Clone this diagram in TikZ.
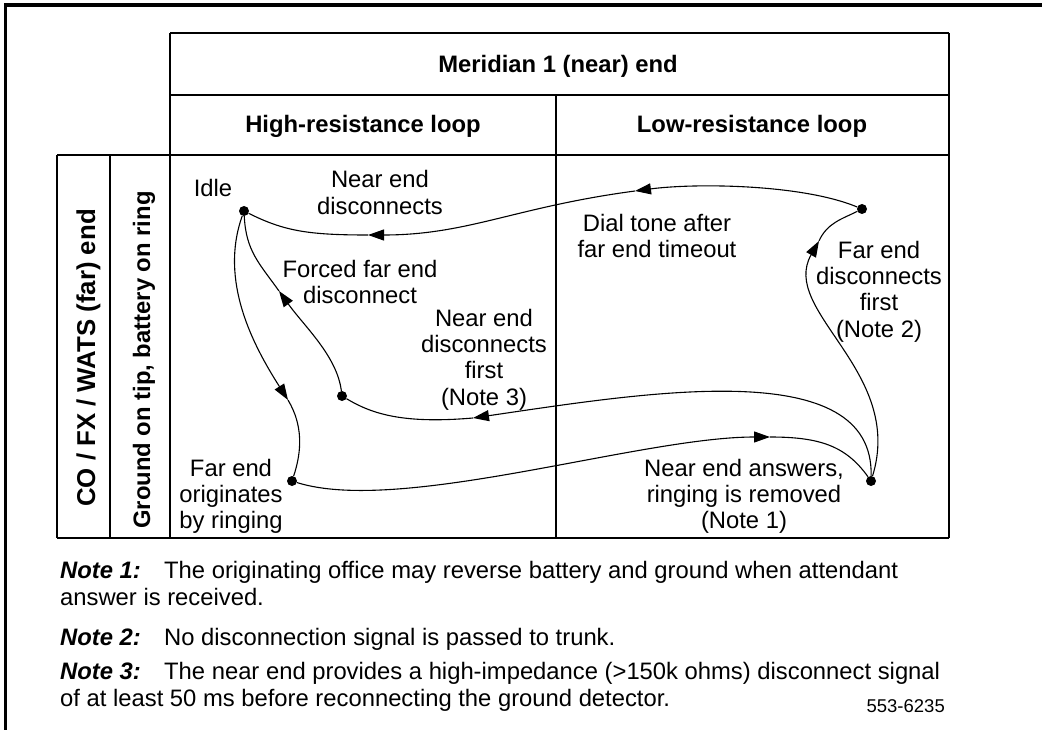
\documentclass[tikz,border=0pt]{standalone}
\usepackage{fontspec}
\setmainfont{Liberation Sans}
\usetikzlibrary{arrows.meta}
\begin{document}
\begin{tikzpicture}[x=1pt,y=-1pt,
  lbl/.style={font=\fontsize{23.8pt}{26.4pt}\selectfont, align=center, anchor=base, inner sep=0pt},
  hdr/.style={font=\fontsize{23.8pt}{26.4pt}\selectfont\bfseries, anchor=base, inner sep=0pt},
  vhdr/.style={hdr, rotate=90},
  note/.style={font=\fontsize{23.8pt}{27pt}\selectfont, align=left, anchor=base west, inner sep=0pt},
  grid/.style={line width=1.1pt},
  dot/.style={circle, fill=black, inner sep=0pt, minimum size=10pt},
  flow/.style={line width=1.1pt},
  tip/.style={-{Triangle[length=16pt,width=11pt]}},
]
\useasboundingbox (0,0) rectangle (1042,730);
% frame
\draw[line width=3.3pt] (1042,5) -- (5.7,5) -- (5.7,730);
% table
\draw[grid] (170,33) -- (949,33);
\draw[grid] (170,95) -- (949,95);
\draw[grid] (57,155) -- (949,155);
\draw[grid] (57,538) -- (949,538);
\draw[grid] (57,155) -- (57,538);
\draw[grid] (110,155) -- (110,538);
\draw[grid] (170,33) -- (170,538);
\draw[grid] (556,95) -- (556,538);
\draw[grid] (949,33) -- (949,538);
% headers
\node[hdr] (hmer) at (558,73) {Meridian 1 (near) end};
\node[hdr] (hhigh) at (363,133) {High-resistance loop};
\node[hdr] (hlow) at (752,133) {Low-resistance loop};
\node[vhdr, font=\fontsize{25.8pt}{28pt}\selectfont\bfseries] (hfar) at (95,358) {CO / FX / WATS (far) end};
\node[vhdr] (hgnd) at (150,360) {Ground on tip, battery on ring};
% states
\node[dot] (idle) at (244,211) {};
\node[dot] (dtop) at (862,209) {};
\node[dot] (forced) at (342,396) {};
\node[dot] (ring) at (292,481) {};
\node[dot] (ans) at (871,481) {};
% arrow tip points
\coordinate (a1) at (635,191);
\coordinate (a2) at (368,235);
\coordinate (a3) at (288,400);
\coordinate (a4) at (279,291);
\coordinate (a5) at (473,418);
\coordinate (a6) at (770,437);
\coordinate (a7) at (819,241);
% transitions
\draw[flow,tip] (dtop) .. controls +(-60,-25) and +(60,-8) .. (a1);
\draw[flow,tip] (a1) .. controls +(-120,16) and +(100,0) .. (a2);
\draw[flow] (a2) .. controls +(-60,0) and +(40,20) .. (idle);
\draw[flow,tip] (idle) .. controls +(-25,70) and +(-35,-55) .. (a3);
\draw[flow] (a3) .. controls +(15,25) and +(10,-30) .. (ring);
\draw[flow,tip] (forced) .. controls +(-5,-40) and +(25,35) .. (a4);
\draw[flow] (a4) .. controls +(-20,-28) and +(2,40) .. (idle);
\draw[flow,tip] (ans) .. controls +(3,-126) and +(177,-26) .. (a5);
\draw[flow] (a5) .. controls +(-70,6) and +(30,18) .. (forced);
\draw[flow,tip] (ring) .. controls +(108,34) and +(-130,0) .. (a6);
\draw[flow] (a6) .. controls +(50,0) and +(-25,-35) .. (ans);
\draw[flow,tip] (ans) .. controls +(34,-110) and +(-40,70) .. (a7);
\draw[flow] (a7) .. controls +(8,-18) and +(-20,10) .. (dtop);
% labels (anchor = baseline of last line)
\node[lbl] (lidle) at (213,197) {Idle};
\node[lbl] (lned) at (380,214.4) {Near end\\disconnects};
\node[lbl] (ldial) at (657,257.4) {Dial tone after\\far end timeout};
\node[lbl] (lfed) at (879,337.2) {Far end\\disconnects\\first\\(Note 2)};
\node[lbl] (lforced) at (360,303.4) {Forced far end\\disconnect};
\node[lbl] (lnedf) at (484,405.2) {Near end\\disconnects\\first\\(Note 3)};
\node[lbl] (lorig) at (231,528.8) {Far end\\originates\\by ringing};
\node[lbl] (lans) at (744,528.8) {Near end answers,\\ringing is removed\\(Note 1)};
% notes
\node[note] (n1) at (60,605) {\makebox[104pt][l]{\bfseries\itshape Note 1:}The originating office may reverse battery and ground when attendant\\answer is received.};
\node[note] (n2) at (60,645) {\makebox[104pt][l]{\bfseries\itshape Note 2:}No disconnection signal is passed to trunk.};
\node[note] (n3) at (60,706) {\makebox[104pt][l]{\bfseries\itshape Note 3:}The near end provides a high-impedance (>150k ohms) disconnect signal\\of at least 50 ms before reconnecting the ground detector.};
\node[font=\fontsize{18.5pt}{20pt}\selectfont, anchor=base east, inner sep=0pt] (fig) at (945,712) {553-6235};
\end{tikzpicture}
\end{document}
